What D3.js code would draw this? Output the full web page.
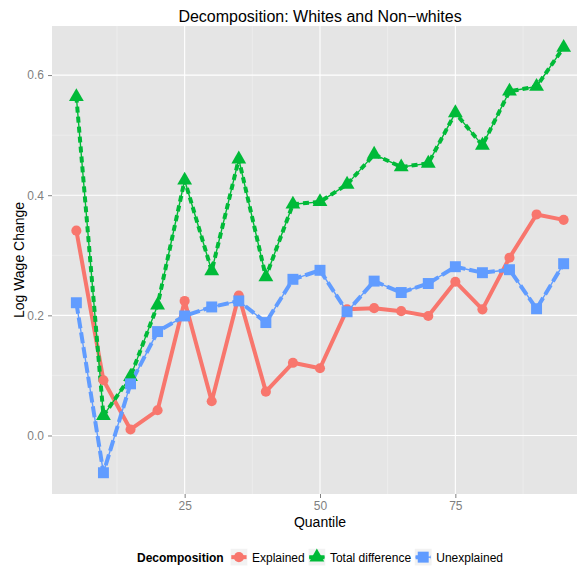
<!DOCTYPE html>
<html lang="en">
<head>
  <meta charset="UTF-8">
  <title>Decomposition: Whites and Non-whites</title>
  <style>
    body{ margin: 0; background: #fff; }
    svg{ font-family: "Liberation Sans", Arial, sans-serif; display: block; }
    .tick-label{ fill: #7f7f7f; font-size: 12px; }
    .axis-title{ fill: #000; font-size: 14px; }
  </style>
</head>
<body>
  <script src="https://cdn.jsdelivr.net/npm/d3@7"></script>
  <script>
    const quantiles = [5, 10, 15, 20, 25, 30, 35, 40, 45, 50, 55, 60, 65, 70, 75, 80, 85, 90, 95];
    const explained = [0.341, 0.092, 0.010, 0.042, 0.224, 0.057, 0.233, 0.073, 0.121, 0.112,
                       0.210, 0.212, 0.207, 0.199, 0.256, 0.210, 0.296, 0.368, 0.359];
    const totalDiff = [0.564, 0.033, 0.098, 0.217, 0.425, 0.274, 0.460, 0.264, 0.385, 0.389,
                       0.418, 0.468, 0.447, 0.453, 0.537, 0.483, 0.573, 0.581, 0.646];
    const unexplained = [0.221, -0.062, 0.086, 0.173, 0.199, 0.214, 0.224, 0.188, 0.260, 0.275,
                         0.206, 0.257, 0.238, 0.253, 0.281, 0.271, 0.276, 0.211, 0.286];
    const seriesNames = ['Explained', 'Total difference', 'Unexplained'];
    const xTicks = [25, 50, 75];
    const xMinor = [12.5, 37.5, 62.5, 87.5];
    const yTicks = [0.0, 0.2, 0.4, 0.6];
    const yMinor = [0.1, 0.3, 0.5];

    const width = 577, height = 570;
    const panel = { left: 52, right: 588, top: 26, bottom: 494 };
    const colors = ['#F8766D', '#00BA38', '#619CFF'];
    const dashes = [null, '6,4', '11,4'];

    const series = seriesNames.map((name, i) => ({
      name: name,
      color: colors[i],
      dash: dashes[i],
      shape: i,
      values: quantiles.map((q, j) => ({ x: q, y: [explained, totalDiff, unexplained][i][j] }))
    }));

    const x = d3.scaleLinear().domain([0.5, 99.5]).range([panel.left, panel.right]);
    const y = d3.scaleLinear().domain([-0.0974, 0.6817]).range([panel.bottom, panel.top]);

    const svg = d3.select('body').append('svg').attr('width', width).attr('height', height);

    // panel + grid
    svg.append('rect')
      .attr('x', panel.left).attr('y', panel.top)
      .attr('width', panel.right - panel.left).attr('height', panel.bottom - panel.top)
      .attr('fill', '#e5e5e5');
    const grid = svg.append('g');
    grid.selectAll('line.xmin').data(xMinor).enter().append('line')
      .attr('x1', d => x(d)).attr('x2', d => x(d)).attr('y1', panel.top).attr('y2', panel.bottom)
      .attr('stroke', '#f2f2f2').attr('stroke-width', 0.6);
    grid.selectAll('line.ymin').data(yMinor).enter().append('line')
      .attr('y1', d => y(d)).attr('y2', d => y(d)).attr('x1', panel.left).attr('x2', panel.right)
      .attr('stroke', '#f2f2f2').attr('stroke-width', 0.6);
    grid.selectAll('line.xmaj').data(xTicks).enter().append('line')
      .attr('x1', d => x(d)).attr('x2', d => x(d)).attr('y1', panel.top).attr('y2', panel.bottom)
      .attr('stroke', '#fff').attr('stroke-width', 1.1);
    grid.selectAll('line.ymaj').data(yTicks).enter().append('line')
      .attr('y1', d => y(d)).attr('y2', d => y(d)).attr('x1', panel.left).attr('x2', panel.right)
      .attr('stroke', '#fff').attr('stroke-width', 1.1);

    // axes
    const xAxis = svg.append('g').attr('transform', `translate(0,${panel.bottom})`)
      .call(d3.axisBottom(x).tickValues(xTicks).tickSize(4).tickPadding(3));
    const yAxis = svg.append('g').attr('transform', `translate(${panel.left},0)`)
      .call(d3.axisLeft(y).tickValues(yTicks).tickSize(4).tickPadding(4).tickFormat(d3.format('.1f')));
    [xAxis, yAxis].forEach(a => {
      a.select('.domain').remove();
      a.selectAll('.tick line').attr('stroke', '#7f7f7f');
      a.selectAll('.tick text').attr('class', 'tick-label').attr('font-family', null).attr('font-size', null);
    });
    xAxis.selectAll('.tick text').attr('dy', '0.75em');

    // lines
    const line = d3.line().x(d => x(d.x)).y(d => y(d.y));
    series.forEach(s => {
      svg.append('path').attr('d', line(s.values))
        .attr('fill', 'none').attr('stroke', s.color)
        .attr('stroke-width', s.dash ? 1.4 : 0).attr('stroke-linejoin', 'round');
      svg.append('path').attr('d', line(s.values))
        .attr('fill', 'none').attr('stroke', s.color)
        .attr('stroke-width', 4).attr('stroke-linejoin', 'round')
        .attr('stroke-dasharray', s.dash);
    });

    const shapes = [d3.symbolCircle, d3.symbolTriangle, d3.symbolSquare];
    const sizes = [80, 95, 120];
    function symbolPath(i){ return d3.symbol().type(shapes[i]).size(sizes[i])(); }

    series.forEach(s => {
      svg.selectAll(null).data(s.values).enter().append('path')
        .attr('d', symbolPath(s.shape))
        .attr('transform', d => `translate(${x(d.x)},${y(d.y)})`)
        .attr('fill', s.color);
    });

    // titles
    svg.append('text').attr('x', (panel.left + panel.right) / 2).attr('y', 22)
      .attr('text-anchor', 'middle').attr('font-size', 16).text('Decomposition: Whites and Non\u2212whites');
    svg.append('text').attr('class', 'axis-title')
      .attr('x', (panel.left + panel.right) / 2).attr('y', 527)
      .attr('text-anchor', 'middle').text('Quantile');
    svg.append('text').attr('class', 'axis-title')
      .attr('transform', `translate(24,${(panel.top + panel.bottom) / 2}) rotate(-90)`)
      .attr('text-anchor', 'middle').text('Log Wage Change');

    // legend
    const legend = svg.append('g');
    const keySize = 17.3, keyY = 548.5, textY = 561.5;
    const lt = legend.append('text').attr('y', textY).attr('font-size', 12)
      .attr('font-weight', 'bold').text('Decomposition');
    let cx = 0;
    cx += lt.node().getComputedTextLength() + 6.6;
    series.forEach(s => {
      const g = legend.append('g');
      g.append('rect').attr('x', cx).attr('y', keyY).attr('width', keySize).attr('height', keySize)
        .attr('fill', '#f2f2f2').attr('stroke', '#fff').attr('stroke-width', 0.5);
      const kx = cx + keySize / 2, ky = keyY + keySize / 2;
      g.append('line').attr('x1', cx + 1).attr('x2', cx + keySize - 1).attr('y1', ky).attr('y2', ky)
        .attr('stroke', s.color).attr('stroke-width', 4).attr('stroke-dasharray', s.dash);
      if (s.dash) {
        g.append('line').attr('x1', cx + 1).attr('x2', cx + keySize - 1).attr('y1', ky).attr('y2', ky)
          .attr('stroke', s.color).attr('stroke-width', 1.4);
      }
      g.append('path').attr('d', symbolPath(s.shape)).attr('transform', `translate(${kx},${ky})`)
        .attr('fill', s.color);
      cx += keySize + 4.4;
      const t = g.append('text').attr('x', cx).attr('y', textY).attr('font-size', 12).text(s.name);
      cx += t.node().getComputedTextLength() + 3.5;
    });
    const total = cx - 3.5;
    legend.attr('transform', `translate(${(panel.left + panel.right) / 2 - total / 2},0)`);
  </script>
</body>
</html>
